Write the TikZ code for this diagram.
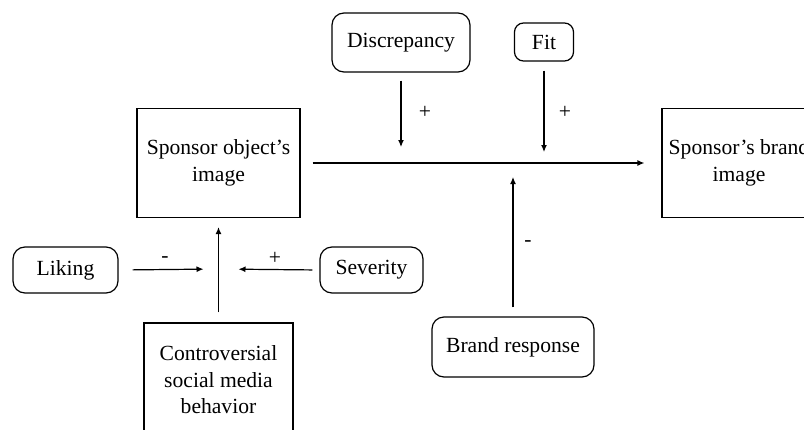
\documentclass[tikz,border=0pt]{standalone}
\usepackage{fontspec}
\setmainfont{Liberation Serif}
\usetikzlibrary{arrows.meta}

\begin{document}
\begin{tikzpicture}[x = 0.5pt, y = -0.5pt, line width = 0.6pt,
    every node/.style = {draw, align = center, inner sep = 2pt, font = \fontsize{10.8}{13.2}\selectfont},
    factor/.style = {rounded corners = 6pt},
    sign/.style = {draw = none, inner sep = 0pt},
    link/.style = {-{Latex[length = 3.5pt, width = 3pt]}}]
    \useasboundingbox (0, 0) rectangle (804, 429);
    \clip (0, 0) rectangle (804, 429);
    % concepts
    \node[minimum width = 81.5pt, minimum height = 54.5pt] (object) at (218.5, 163) {Sponsor object’s\\image};
    \node[minimum width = 77pt, minimum height = 54.5pt] (brand) at (739, 163) {Sponsor’s brand\\image};
    \node[minimum width = 74.5pt, minimum height = 57pt] (behavior) at (218.5, 380) {Controversial\\social media\\behavior};
    % moderators
    \node[factor, minimum width = 69pt, minimum height = 29.5pt] (discrepancy) at (401, 42.5) {Discrepancy};
    \node[factor, rounded corners = 4.5pt, minimum width = 29.5pt, minimum height = 19pt] (fit) at (544, 42) {Fit};
    \node[factor, minimum width = 52.5pt, minimum height = 23pt] (liking) at (65.5, 270) {Liking};
    \node[factor, minimum width = 51.5pt, minimum height = 23pt] (severity) at (371.5, 270) {Severity};
    \node[factor, minimum width = 81pt, minimum height = 30pt] (response) at (513, 347) {Brand response};
    % junctions
    \coordinate (jd) at (401, 163);
    \coordinate (jf) at (544, 163);
    \coordinate (jr) at (513, 163);
    \coordinate (jb) at (218.5, 269);
    % paths
    \draw[link, shorten < = 6pt, shorten > = 8.5pt] (object.east) -- (brand.west);
    \draw[shorten < = 5pt] (behavior.north) -- (jb);
    \draw[link, shorten > = 4.5pt] (jb) -- (object.south);
    \draw[link, shorten < = 4pt, shorten > = 8pt] (discrepancy.south) -- (jd);
    \draw[link, shorten < = 4.5pt, shorten > = 5.5pt] (fit.south) -- (jf);
    \draw[link, shorten < = 4.5pt, shorten > = 7pt] (response.north) -- (jr);
    \draw[link, shorten < = 7pt, shorten > = 7.5pt] (liking.east) -- (jb);
    \draw[link, shorten < = 3.5pt, shorten > = 10pt] (severity.west) -- (jb);
    % signs
    \node[sign] (sd) at (425, 112) {+};
    \node[sign] (sf) at (565, 112) {+};
    \node[sign] (sr) at (528, 244) {-};
    \node[sign] (sl) at (165, 260) {-};
    \node[sign] (ss) at (275, 258) {+};
\end{tikzpicture}
\end{document}
